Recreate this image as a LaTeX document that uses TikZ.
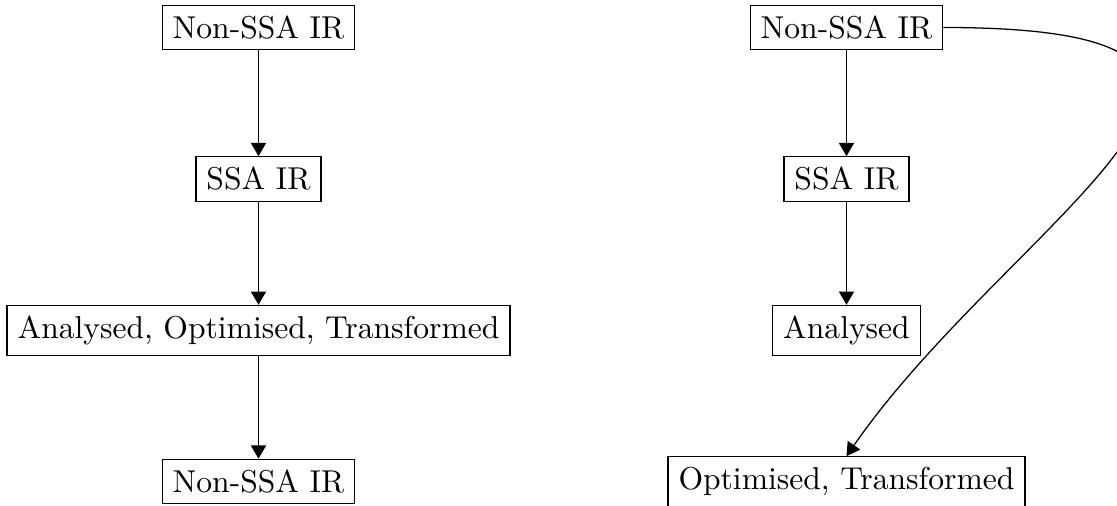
\documentclass[tikz,border=0pt]{standalone}
\usetikzlibrary{arrows.meta}
\begin{document}
\begin{tikzpicture}[x=0.3164pt,y=-0.3164pt,
  box/.style={draw,rectangle,inner sep=3.33pt},
  arr/.style={-{Triangle[length=4.2pt,width=4.8pt]}}]
\clip (0,0) rectangle (1117,506);
\useasboundingbox (0,0) rectangle (1117,506);
% left column
\node[box] (l1) at (258.5,27.5) {Non-SSA IR};
\node[box] (l2) at (258.5,179) {SSA IR};
\node[box] (l3) at (258.5,330.5) {Analysed, Optimised, Transformed};
\node[box] (l4) at (258.5,481.5) {Non-SSA IR};
\draw[arr] (l1) -- (l2);
\draw[arr] (l2) -- (l3);
\draw[arr] (l3) -- (l4);
% right column
\node[box] (r1) at (846.5,27.5) {Non-SSA IR};
\node[box] (r2) at (846.5,179) {SSA IR};
\node[box] (r3) at (846.5,330.5) {Analysed};
\node[box] (r4) at (846.5,481.5) {Optimised, Transformed};
\draw[arr] (r1) -- (r2);
\draw[arr] (r2) -- (r3);
\draw[arr] (r1.east) .. controls (1370,27.5) and (1010,220) .. (r4.north);
\end{tikzpicture}
\end{document}
